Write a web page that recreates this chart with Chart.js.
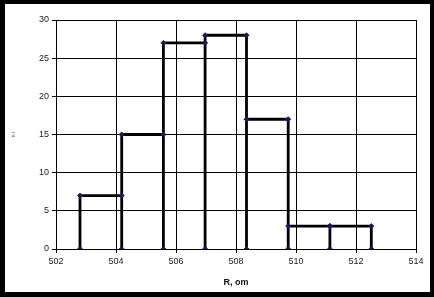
<!DOCTYPE html>
<html>
<head>
<meta charset="utf-8">
<script src="https://cdn.jsdelivr.net/npm/chart.js@4/dist/chart.umd.min.js"></script>
<style>
  html, body { margin: 0; padding: 0; background: #000; }
  #frame { position: absolute; left: 5px; top: 4px; width: 425px; height: 288px; background: #fff; }
</style>
</head>
<body>
<div id="frame"><canvas id="hist" width="425" height="288"></canvas></div>
<script>
// bin edges (R, om) and counts n_i
const edges = [502.8, 504.19, 505.58, 506.97, 508.35, 509.74, 511.13, 512.51];
const counts = [7, 15, 27, 28, 17, 3, 3];
const xTicks = [502, 504, 506, 508, 510, 512, 514];
const yTicks = [0, 5, 10, 15, 20, 25, 30];

// outline path of the histogram
const pts = [{x: edges[0], y: 0}];
for (let i = 0; i < counts.length; i++) {
    pts.push({x: edges[i], y: counts[i]});
    pts.push({x: edges[i + 1], y: counts[i]});
    pts.push({x: edges[i + 1], y: 0});
}

Chart.defaults.font.family = '"Liberation Sans", Arial, sans-serif';
Chart.defaults.font.size = 9;
Chart.defaults.color = '#222';

const boxPlugin = {
    id: 'box',
    afterDraw(chart) {
        const a = chart.chartArea, c = chart.ctx;
        c.save();
        c.strokeStyle = '#000';
        c.lineWidth = 1;
        c.strokeRect(Math.round(a.left) + 0.5, Math.round(a.top) + 0.5, Math.round(a.right - a.left), Math.round(a.bottom - a.top));
        c.restore();
    }
};

new Chart(document.getElementById('hist'), {
    type: 'scatter',
    data: {
        datasets: [{
            data: pts,
            showLine: true,
            borderColor: '#000',
            borderWidth: 2.8,
            pointStyle: 'rectRot',
            pointRadius: 2.5,
            pointBackgroundColor: '#1a1a60',
            pointBorderColor: '#1a1a60',
            pointBorderWidth: 1,
            tension: 0
        }]
    },
    options: {
        responsive: false,
        animation: false,
        events: [],
        layout: { padding: { top: 16, right: 14, left: 0, bottom: 0 } },
        plugins: { legend: { display: false }, tooltip: { enabled: false } },
        scales: {
            x: {
                type: 'linear',
                min: 502, max: 514,
                afterBuildTicks: s => { s.ticks = xTicks.map(v => ({value: v})); },
                afterFit: s => { s.height = 43; },
                grid: { color: '#000', borderDash: [2, 2], tickLength: 4, tickColor: '#000', tickBorderDash: [] },
                border: { color: '#000', width: 1 },
                ticks: { padding: 3, maxRotation: 0 },
                title: { display: true, text: 'R, om', font: { weight: 'bold', size: 9 }, color: '#111', padding: { top: 2 } }
            },
            y: {
                min: 0, max: 30,
                afterBuildTicks: s => { s.ticks = yTicks.map(v => ({value: v})); },
                afterFit: s => { s.width = 51; },
                grid: { color: '#000', borderDash: [2, 2], tickLength: 4, tickColor: '#000', tickBorderDash: [] },
                border: { color: '#000', width: 1 },
                ticks: { padding: 3 },
                title: { display: true, text: 'n i', font: { size: 5 }, color: '#555', padding: { top: 6, bottom: 6 } }
            }
        }
    },
    plugins: [boxPlugin]
});
</script>
</body>
</html>
